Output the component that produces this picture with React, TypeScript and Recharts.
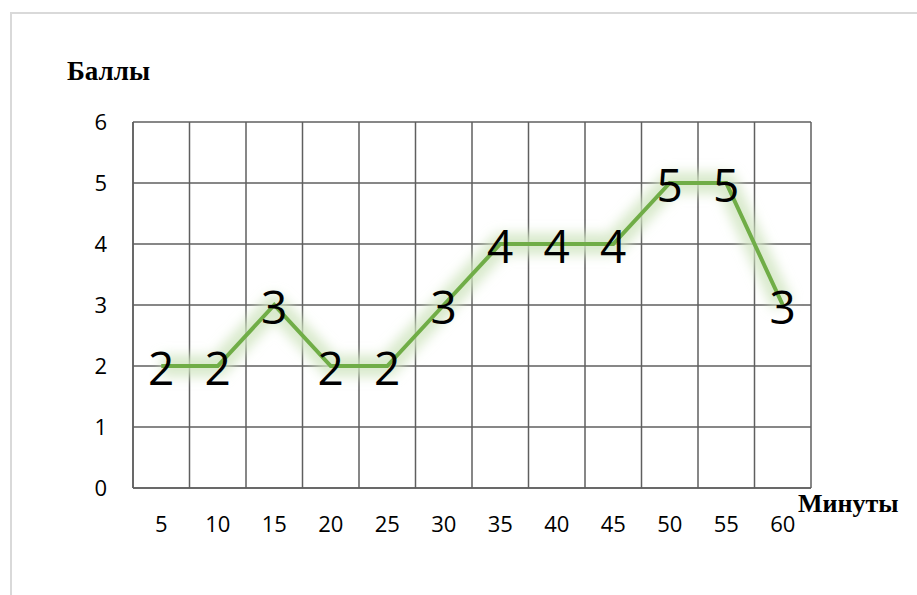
import { LineChart, Line, XAxis, YAxis, CartesianGrid, LabelList } from "recharts";

// Minutes (x) and scores (y)
const MINUTES = [5, 10, 15, 20, 25, 30, 35, 40, 45, 50, 55, 60];
const SCORES = [2, 2, 3, 2, 2, 3, 4, 4, 4, 5, 5, 3];
const Y_TICKS = [0, 1, 2, 3, 4, 5, 6];

const data = MINUTES.map((m, i) => ({ m, score: SCORES[i], glow: SCORES[i] }));

const GRID = "#5f5f5f";
const GREEN = "#70ad47";
const FONT = "'Open Sans', 'Noto Sans', sans-serif";

export default function App() {
  return (
    <div style={{ position: "absolute", left: 0, top: 0, width: 917, height: 595, background: "#fff", overflow: "hidden" }}>
      <div style={{ position: "absolute", left: 10, top: 12, width: 930, height: 620, border: "2px solid #d9d9d9" }} />
      <div style={{ position: "absolute", left: 0, top: 0 }}>
        <LineChart width={917} height={595} data={data} margin={{ top: 122, right: 106, bottom: 77, left: 73 }}>
          <defs>
            <filter id="glow" x="-20%" y="-50%" width="140%" height="200%">
              <feGaussianBlur stdDeviation="6" />
            </filter>
          </defs>
          <CartesianGrid
            stroke={GRID}
            strokeWidth={1.5}
            verticalCoordinatesGenerator={({ offset }: any) =>
              Array.from({ length: MINUTES.length + 1 }, (_, i) => offset.left + (i * offset.width) / MINUTES.length)
            }
          />
          <XAxis
            dataKey="m"
            type="number"
            domain={[2.5, 62.5]}
            ticks={MINUTES}
            interval={0}
            height={30}
            axisLine={{ stroke: GRID, strokeWidth: 1.5 }}
            tickLine={false}
            tickSize={6}
            tickMargin={22}
            tick={{ fill: "#000", fontSize: 22, fontFamily: FONT }}
          />
          <YAxis
            domain={[0, 6]}
            ticks={Y_TICKS}
            width={60}
            axisLine={{ stroke: GRID, strokeWidth: 1.5 }}
            tickLine={false}
            tickSize={6}
            tickMargin={20}
            tick={{ fill: "#000", fontSize: 22, fontFamily: FONT }}
          />
          <Line
            dataKey="glow"
            stroke="#cfe5bf"
            strokeWidth={22}
            strokeOpacity={0.8}
            strokeLinejoin="round"
            filter="url(#glow)"
            dot={false}
            activeDot={false}
            isAnimationActive={false}
          />
          <Line
            dataKey="score"
            stroke={GREEN}
            strokeWidth={4}
            dot={false}
            activeDot={false}
            isAnimationActive={false}
          >
            <LabelList dataKey="score" position="center" dy={3} fill="#000" fontSize={46} fontFamily={FONT} />
          </Line>
        </LineChart>
      </div>
      <svg width={917} height={595} style={{ position: "absolute", left: 0, top: 0, pointerEvents: "none" }}>
        <text x={67} y={80} fontFamily="'Liberation Serif', 'DejaVu Serif', serif" fontWeight="bold" fontSize={27} fill="#000">
          Баллы
        </text>
        <text x={798} y={512} fontFamily="'Liberation Serif', 'DejaVu Serif', serif" fontWeight="bold" fontSize={26} fill="#000">
          Минуты
        </text>
      </svg>
    </div>
  );
}
